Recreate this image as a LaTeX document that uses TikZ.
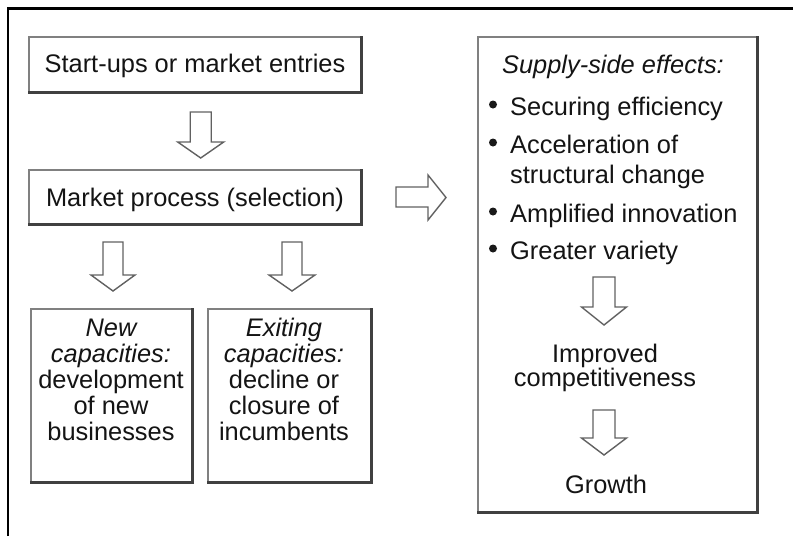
\documentclass[tikz,border=0pt]{standalone}
\usepackage{fontspec}
\setmainfont{Liberation Sans}
\usetikzlibrary{calc}

% hollow block arrow pointing down: top centre, shaft length, head length, half shaft width, half head width
\newcommand\downblock[5]{%
  \draw[hollow] ($(#1)+(-#4,0)$) -- ++(2*#4,0) -- ++(0,#2) -- ++(#5-#4,0)
    -- ++(-#5,#3) -- ++(-#5,-#3) -- ++(#5-#4,0) -- cycle;}

\begin{document}
\begin{tikzpicture}[x=1pt,y=-1pt,
  lbl/.style={font=\fontsize{25.4}{26}\selectfont, inner sep=0pt, text=black!92},
  boxframe/.style={draw=black!50, line width=1.3pt, fill=white, inner sep=0pt},
  shade/.style={black!75, line width=2.4pt},
  hollow/.style={draw=black!62, line width=1.4pt, fill=white, line join=miter}]
\useasboundingbox (0,0) rectangle (793,536);

% outer frame (top and left edges)
\draw[line width=2.2pt] (8,536) -- (8,8.5) -- (793,8.5);

% left column boxes
\node[boxframe, minimum width=332, minimum height=55] (start) at (195,64.5) {};
\draw[shade] (start.north east) -- (start.south east) -- (start.south west);
\node[lbl, anchor=base] (starttxt) at (195,72.7) {Start-ups or market entries};

\node[boxframe, minimum width=332, minimum height=54] (market) at (195,197) {};
\draw[shade] (market.north east) -- (market.south east) -- (market.south west);
\node[lbl, anchor=base] (markettxt) at (195,206.5) {Market process (selection)};

\node[boxframe, minimum width=161, minimum height=173] (newcap) at (111.5,395.5) {};
\draw[shade] (newcap.north east) -- (newcap.south east) -- (newcap.south west);
\node[lbl, anchor=base] (n1) at (111,336) {\itshape New};
\node[lbl, anchor=base] (n2) at (111,362) {\itshape capacities:};
\node[lbl, anchor=base] (n3) at (111,388.5) {development};
\node[lbl, anchor=base] (n4) at (111,414.5) {of new};
\node[lbl, anchor=base] (n5) at (111,440.5) {businesses};

\node[boxframe, minimum width=163, minimum height=173] (exitcap) at (289.5,395.5) {};
\draw[shade] (exitcap.north east) -- (exitcap.south east) -- (exitcap.south west);
\node[lbl, anchor=base] (e1) at (284,336) {\itshape Exiting};
\node[lbl, anchor=base] (e2) at (284,362) {\itshape capacities:};
\node[lbl, anchor=base] (e3) at (284,388.5) {decline or};
\node[lbl, anchor=base] (e4) at (284,414.5) {closure of};
\node[lbl, anchor=base] (e5) at (284,440.5) {incumbents};

% right box
\node[boxframe, minimum width=279, minimum height=475] (supply) at (617.5,274.5) {};
\draw[shade, line width=3pt] (supply.north east) -- (supply.south east) -- (supply.south west);
\node[lbl, anchor=base] (head) at (613,73) {\itshape Supply-side effects:};
\node[lbl, anchor=base west] (b1) at (510,115) {Securing efficiency};
\node[lbl, anchor=base west] (b2) at (510,153) {Acceleration of};
\node[lbl, anchor=base west] (b2b) at (510,183) {structural change};
\node[lbl, anchor=base west] (b3) at (510,222) {Amplified innovation};
\node[lbl, anchor=base west] (b4) at (510,259) {Greater variety};
\foreach \n in {b1,b2,b3,b4}
  \fill[black!90] ($(\n.base west)+(-17,-10.5)$) circle (4);
\node[lbl, anchor=base] (imp1) at (605,362) {Improved};
\node[lbl, anchor=base] (imp2) at (605,386.5) {competitiveness};
\node[lbl, anchor=base] (growth) at (606,493) {Growth};

% block arrows
\coordinate (a1) at (200.7,112);
\coordinate (a2) at (113,242);
\coordinate (a3) at (292,242);
\coordinate (a4) at (604,277);
\coordinate (a5) at (604,410);
\downblock{a1}{30}{16}{10.5}{23}
\downblock{a2}{33}{16}{10}{22}
\downblock{a3}{33}{16}{10}{23}
\downblock{a4}{30}{18}{11}{22.5}
\downblock{a5}{28}{17}{11}{22.5}

\coordinate (r0) at (396,197);
\draw[hollow] ($(r0)+(0,-10)$) -- ++(32,0) -- ++(0,-12) -- ++(18,22.5)
  -- ++(-18,22.5) -- ++(0,-13) -- ++(-32,0) -- cycle;
\end{tikzpicture}
\end{document}
